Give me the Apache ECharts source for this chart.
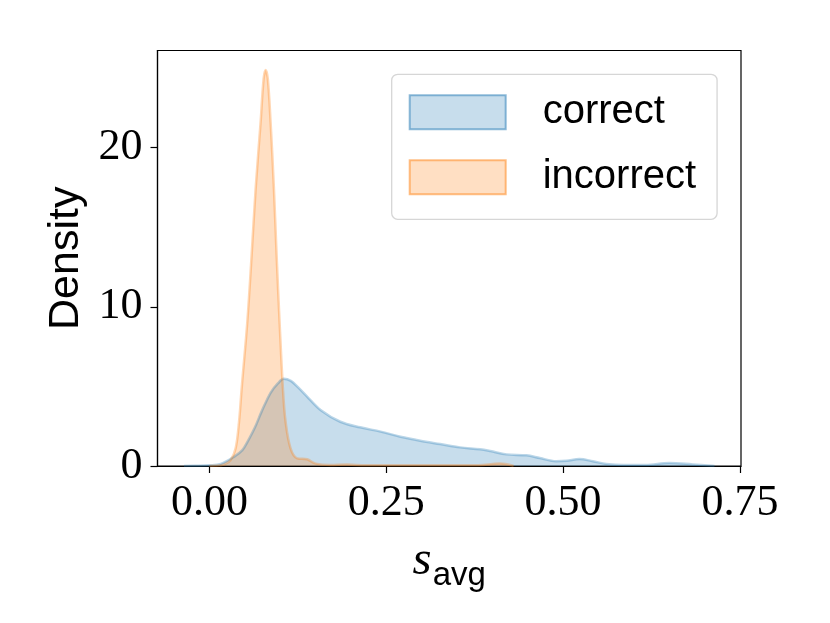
<!DOCTYPE html>
<html>
<head>
<meta charset="utf-8">
<script src="https://cdn.jsdelivr.net/npm/echarts@6/dist/echarts.min.js"></script>
<style>
  html, body { margin: 0; padding: 0; background: #fff; }
  #chart { width: 830px; height: 623px; }
</style>
</head>
<body>
<div id="chart"></div>
<script>
// KDE curve of s_avg for correct answers
const correctX = [-0.036, -0.02, 0.0, 0.016, 0.035, 0.0465, 0.0535, 0.064, 0.0735, 0.0864, 0.097, 0.105,
  0.115, 0.125, 0.138, 0.157, 0.185, 0.213, 0.242, 0.27, 0.298, 0.326, 0.354, 0.3825, 0.397, 0.42,
  0.448, 0.467, 0.49, 0.505, 0.523, 0.542, 0.561, 0.585, 0.617, 0.65, 0.683, 0.714];
const correctY = [0, 0.01, 0.04, 0.13, 0.59, 1.0, 1.5, 2.4, 3.4, 4.6, 5.2, 5.48,
  5.35, 4.95, 4.36, 3.52, 2.78, 2.43, 2.16, 1.84, 1.59, 1.38, 1.17, 1.05, 0.94, 0.73,
  0.67, 0.5, 0.3, 0.33, 0.44, 0.3, 0.13, 0.06, 0.06, 0.19, 0.1, 0];

// KDE curve of s_avg for incorrect answers
const incorrectX = [0.0, 0.009, 0.021, 0.030, 0.037, 0.0418, 0.0455, 0.0535, 0.0596, 0.0653, 0.0723,
  0.0765, 0.0794, 0.0825, 0.0864, 0.0911, 0.0949, 0.0991, 0.1038, 0.1076, 0.1146, 0.124, 0.138,
  0.15, 0.17, 0.195, 0.22, 0.3, 0.38, 0.41, 0.43];
const incorrectY = [0, 0.01, 0.1, 0.38, 1.11, 2.78, 4.88, 9.06, 13.25, 17.44, 21.6,
  24.3, 24.87, 24.3, 21.6, 17.44, 13.25, 9.06, 4.88, 2.78, 1.11, 0.48, 0.42,
  0.15, 0.06, 0.1, 0.04, 0.04, 0.05, 0.15, 0];

const xTicks = [0, 0.25, 0.5, 0.75];
const yTicks = [0, 10, 20];
const seriesNames = ["correct", "incorrect"];
const colors = ["#1f77b4", "#ff7f0e"];

const pairs = (xs, ys) => xs.map((x, i) => [x, ys[i]]);

const chart = echarts.init(document.getElementById("chart"));
const option = {
  animation: false,
  backgroundColor: "#fff",
  grid: {
    left: 157.5,
    top: 50.5,
    width: 583.5,
    height: 415.5,
    show: true,
    borderColor: "#000",
    borderWidth: 1.2,
    backgroundColor: "transparent"
  },
  legend: {
    left: 391.7,
    top: 74.3,
    orient: "vertical",
    itemWidth: 96,
    itemHeight: 34,
    itemGap: 25,
    padding: [18, 21, 22, 17],
    backgroundColor: "rgba(255,255,255,0.8)",
    borderColor: "#d6d6d6",
    borderWidth: 1.3,
    borderRadius: 6,
    textStyle: {
      fontFamily: "Liberation Sans",
      fontSize: 40,
      color: "#000",
      lineHeight: 34,
      padding: [6, 0, 0, 32]
    },
    data: seriesNames.map((name, i) => ({
      name: name,
      icon: "rect",
      itemStyle: {
        color: echarts.color.modifyAlpha(colors[i], 0.25),
        borderColor: echarts.color.modifyAlpha(colors[i], 0.5),
        borderWidth: 2
      }
    }))
  },
  xAxis: {
    type: "value",
    min: -0.0735,
    max: 0.7515,
    splitLine: { show: false },
    axisLine: { show: true, onZero: false, lineStyle: { color: "#000", width: 1.2 } },
    axisTick: { show: true, length: 7, customValues: xTicks, lineStyle: { color: "#000", width: 1.2 } },
    axisLabel: {
      customValues: xTicks,
      formatter: (v) => v.toFixed(2),
      margin: 15,
      fontFamily: "Liberation Serif",
      fontSize: 44,
      color: "#000"
    },
    name: "{s|s}{sub|avg}",
    nameLocation: "middle",
    nameGap: 87,
    nameTextStyle: {
      rich: {
        s: { fontFamily: "Liberation Serif", fontStyle: "italic", fontSize: 49, lineHeight: 46, padding: [0, 1, 29, 0], color: "#000" },
        sub: { fontFamily: "Liberation Sans", fontSize: 33, lineHeight: 32, padding: [21.5, 0, 21.5, 0], color: "#000" }
      }
    }
  },
  yAxis: {
    type: "value",
    min: 0,
    max: 26.1,
    splitLine: { show: false },
    axisLine: { show: true, onZero: false, lineStyle: { color: "#000", width: 1.2 } },
    axisTick: { show: true, length: 7, customValues: yTicks, lineStyle: { color: "#000", width: 1.2 } },
    axisLabel: {
      customValues: yTicks,
      margin: 15,
      fontFamily: "Liberation Serif",
      fontSize: 44,
      color: "#000"
    },
    name: "Density",
    nameLocation: "middle",
    nameRotate: 90,
    nameGap: 64,
    nameTextStyle: { fontFamily: "Liberation Sans", fontSize: 43, color: "#000" }
  },
  series: [
    {
      name: seriesNames[0],
      type: "line",
      data: pairs(correctX, correctY),
      smooth: 0.35,
      showSymbol: false,
      lineStyle: { color: colors[0], width: 2.5, opacity: 0.3 },
      itemStyle: { color: colors[0] },
      areaStyle: { color: colors[0], opacity: 0.25 }
    },
    {
      name: seriesNames[1],
      type: "line",
      data: pairs(incorrectX, incorrectY),
      smooth: 0.35,
      showSymbol: false,
      lineStyle: { color: colors[1], width: 2.5, opacity: 0.3 },
      itemStyle: { color: colors[1] },
      areaStyle: { color: colors[1], opacity: 0.25 }
    }
  ]
};
chart.setOption(option);
</script>
</body>
</html>
